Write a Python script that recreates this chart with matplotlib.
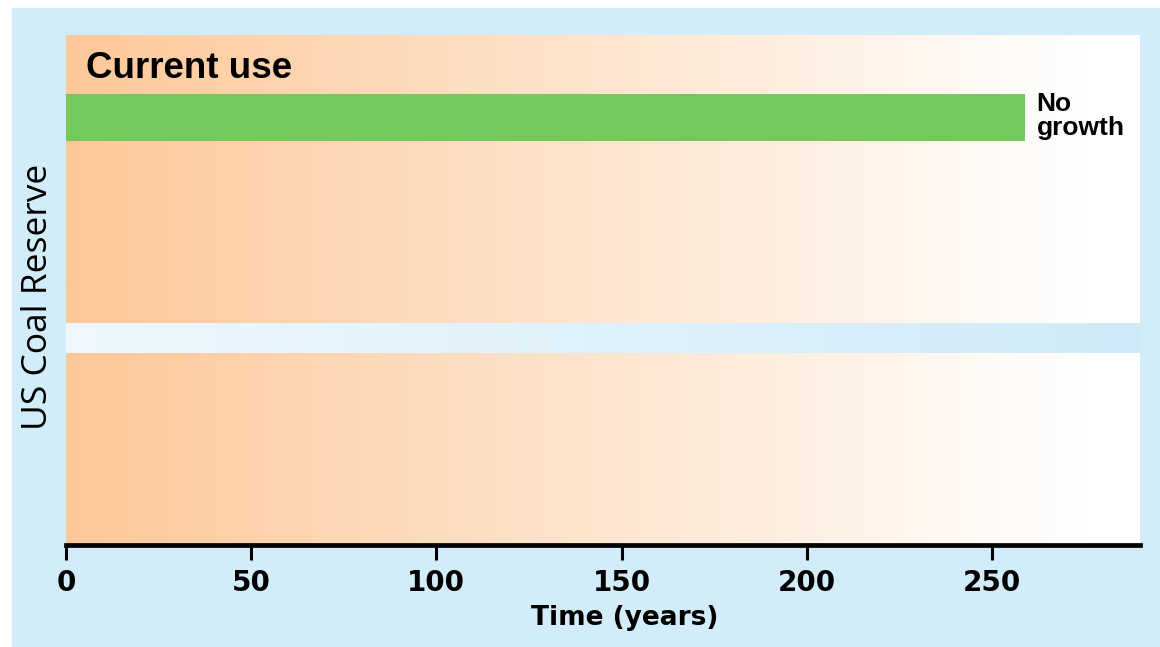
import numpy as np
import matplotlib

matplotlib.use("Agg")
import matplotlib.pyplot as plt
from matplotlib.colors import to_rgb
from matplotlib.patches import Rectangle

# reserve lifetime under each scenario (years)
scenario_names = ["Current use"]
growth_labels = ["No\ngrowth"]
reserve_years = [259]
year_ticks = [0, 50, 100, 150, 200, 250]

W, H = 1160, 647
BG_BLUE = "#d2edf9"
PEACH = "#fdc899"
GREEN = "#74c95a"

fig = plt.figure(figsize=(W / 100, H / 100), dpi=100)
fig.patch.set_facecolor("white")
fig.add_artist(Rectangle((12 / W, 0), 1 - 12 / W, (H - 8) / H,
                         transform=fig.transFigure, color=BG_BLUE, zorder=0))

# axes span the panel area; y is measured in pixels up from the time axis
ax = fig.add_axes([66 / W, (H - 545) / H, (1140 - 66) / W, (545 - 35) / H])
ax.set_facecolor("none")
ax.set_xlim(0, 290)
ax.set_ylim(0, 510)


def hgradient(c0, c1, x0, x1, y0, y1, fade_end=None):
    n = 400
    xs = np.linspace(x0, x1, n)
    end = fade_end if fade_end is not None else x1
    t = np.clip((xs - x0) / (end - x0), 0, 1)[:, None]
    rgb = np.array(to_rgb(c0)) * (1 - t) + np.array(to_rgb(c1)) * t
    ax.imshow(rgb[None, :, :], extent=(x0, x1, y0, y1), aspect="auto",
              interpolation="bilinear", zorder=1)


# two peach panels with the light band between them
hgradient(PEACH, "white", 0, 290, 222, 510, fade_end=276)
hgradient("#eef8fd", "#cfeaf8", 0, 290, 192, 222)
hgradient(PEACH, "white", 0, 290, 0, 192, fade_end=276)

ax.barh([427.5], reserve_years, height=47, left=0, color=GREEN, zorder=2)
ax.text(5.4, 477, scenario_names[0], fontsize=26.5, fontweight="bold",
        family="Liberation Sans", va="center", ha="left", zorder=3)
ax.text(reserve_years[0] + 3.1, 429, growth_labels[0], fontsize=19,
        fontweight="bold", family="Liberation Sans",
        va="center", ha="left", linespacing=1.05, zorder=3)

for side in ("left", "right", "top"):
    ax.spines[side].set_visible(False)
ax.spines["bottom"].set_linewidth(3.4)
ax.spines["bottom"].set_zorder(4)
ax.set_yticks([])
ax.set_xticks(year_ticks)
ax.tick_params(axis="x", direction="out", length=11, width=2.2, pad=6,
               labelsize=20, color="black")
for lab in ax.get_xticklabels():
    lab.set_fontweight("bold")
    lab.set_family("DejaVu Sans")

fig.text(625 / W, 1 - 618 / H, "Time (years)", fontsize=19, fontweight="bold",
         family="DejaVu Sans", ha="center", va="center")
fig.text(38 / W, 1 - 297 / H, "US Coal Reserve", fontsize=25.5,
         family="Open Sans", rotation=90, ha="center", va="center")

fig.savefig("out.png", dpi=100, facecolor=fig.get_facecolor())
